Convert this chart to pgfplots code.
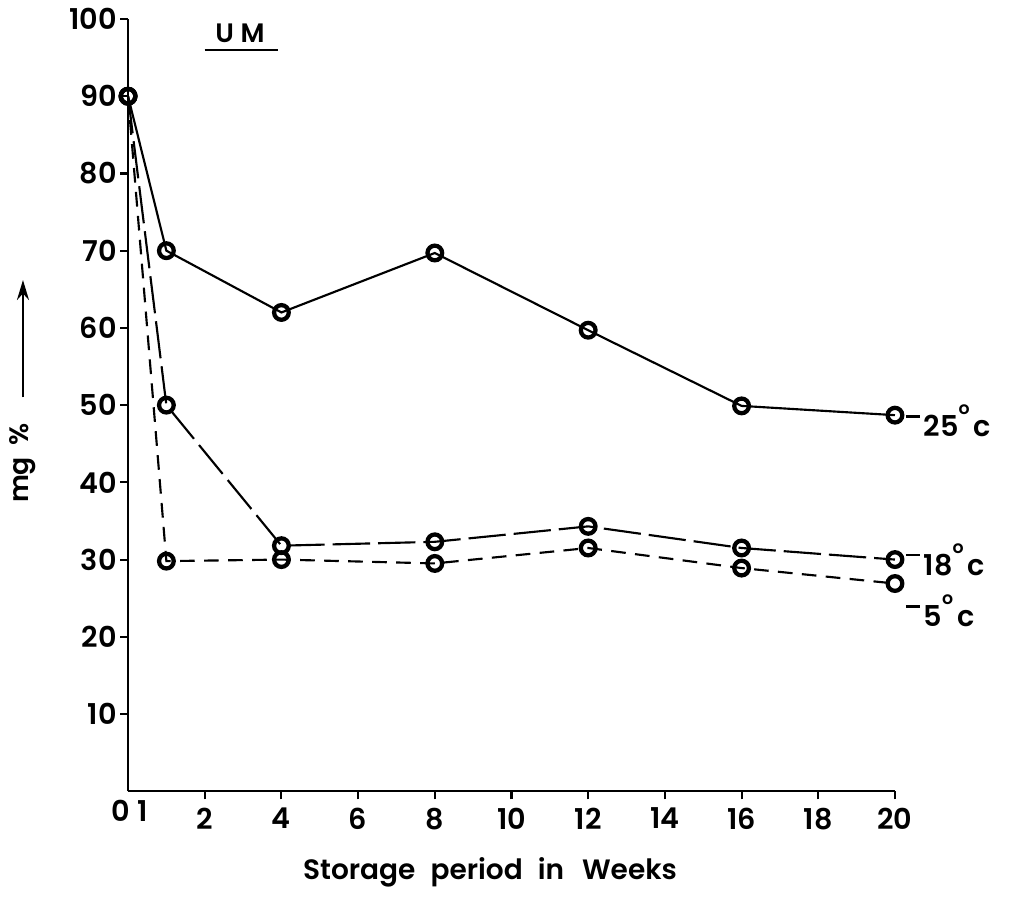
\documentclass[border=0pt]{standalone}
\usepackage{fontspec}
\setmainfont{Poppins}[UprightFont=* SemiBold, BoldFont=* Bold]
\usepackage{pgfplots}
\pgfplotsset{compat=1.18}
\usetikzlibrary{arrows.meta}

% mg % over the storage period, one table per storage temperature
\pgfplotstableread{
week val
0  90
1  70
4  62.0
8  69.7
12 59.7
16 49.9
20 48.7
}\tempA
\pgfplotstableread{
week val
0  90
1  50
4  31.8
8  32.3
12 34.3
16 31.5
20 30.0
}\tempB
\pgfplotstableread{
week val
0  90
1  29.8
4  30.0
8  29.5
12 31.5
16 28.9
20 26.9
}\tempC

% a temperature tag: raised minus, value, raised degree ring, unit
\newcommand{\temptag}[1]{\raisebox{0.66em}{\rule{0.5em}{1.8pt}}\hspace{0.12em}#1\raisebox{0.78em}{\fontsize{13}{13}\selectfont o}\hspace{0.15em}c}

\begin{document}
\begin{tikzpicture}
\begin{axis}[
  scale only axis, width=575pt, height=579pt,
  xmin=0, xmax=20, ymin=0, ymax=100,
  axis x line*=bottom, axis y line*=left,
  axis line style={line width=1.6pt, -},
  xtick={2,4,...,20},
  extra x ticks={0}, extra x tick labels={0\hspace{0.25em}1},
  extra x tick style={major tick length=0pt, xticklabel style={xshift=1pt}},
  ytick={10,20,...,100},
  tick style={line width=1.6pt, black},
  major tick length=6pt, tick align=outside,
  tick label style={font=\fontsize{21.5}{25}\selectfont},
  xticklabel style={yshift=-3pt},
  yticklabel style={xshift=1pt},
  /pgf/number format/assume math mode=true,
  clip=false,
]
\addplot[black, line width=1.6pt, mark=o, mark size=5.5pt,
  mark options={solid, fill=white, line width=3.2pt}] table[x=week, y=val] {\tempA};
\addplot[black, line width=1.6pt, dash pattern=on 28pt off 6pt, mark=o, mark size=5.5pt,
  mark options={solid, fill=white, line width=3.2pt}] table[x=week, y=val] {\tempB};
\addplot[black, line width=1.6pt, dash pattern=on 11pt off 7pt, mark=o, mark size=5.5pt,
  mark options={solid, fill=white, line width=3.2pt}] table[x=week, y=val] {\tempC};

% temperature labels at the line ends
\node[anchor=west, font=\fontsize{21.5}{25}\selectfont, inner sep=0pt]
  at (axis cs:20,48.7) [xshift=8pt, yshift=-4pt] {\temptag{25}};
\node[anchor=west, font=\fontsize{21.5}{25}\selectfont, inner sep=0pt]
  at (axis cs:20,30.0) [xshift=8pt, yshift=0pt] {\temptag{18}};
\node[anchor=west, font=\fontsize{21.5}{25}\selectfont, inner sep=0pt]
  at (axis cs:20,23.4) [xshift=8pt] {\temptag{5}};

% panel title
\node[font=\fontsize{20}{24}\selectfont] at (rel axis cs:0.146,0.982) {U\hspace{0.25em}M};
\draw[line width=1.8pt] (rel axis cs:0.100,0.960) -- (rel axis cs:0.196,0.960);

% axis titles
\node[font=\fontsize{21}{25}\selectfont] at (rel axis cs:0.472,-0.105) {Storage\hspace{0.3em} period\hspace{0.3em} in\hspace{0.4em} Weeks};
\node[font=\fontsize{20}{24}\selectfont, rotate=90] at (rel axis cs:-0.137,0.425) {mg\hspace{0.2em} \%};
\draw[line width=1.7pt, -{Stealth[length=15pt, width=9pt]}] (rel axis cs:-0.137,0.510) -- (rel axis cs:-0.137,0.662);

\coordinate (BL) at (rel axis cs:0,0);
\coordinate (TR) at (rel axis cs:1,1);
\end{axis}
\pgfresetboundingbox
\path ([shift={(-96pt,-83.25pt)}]BL) rectangle ([shift={(87pt,14.25pt)}]TR);
\end{tikzpicture}
\end{document}
